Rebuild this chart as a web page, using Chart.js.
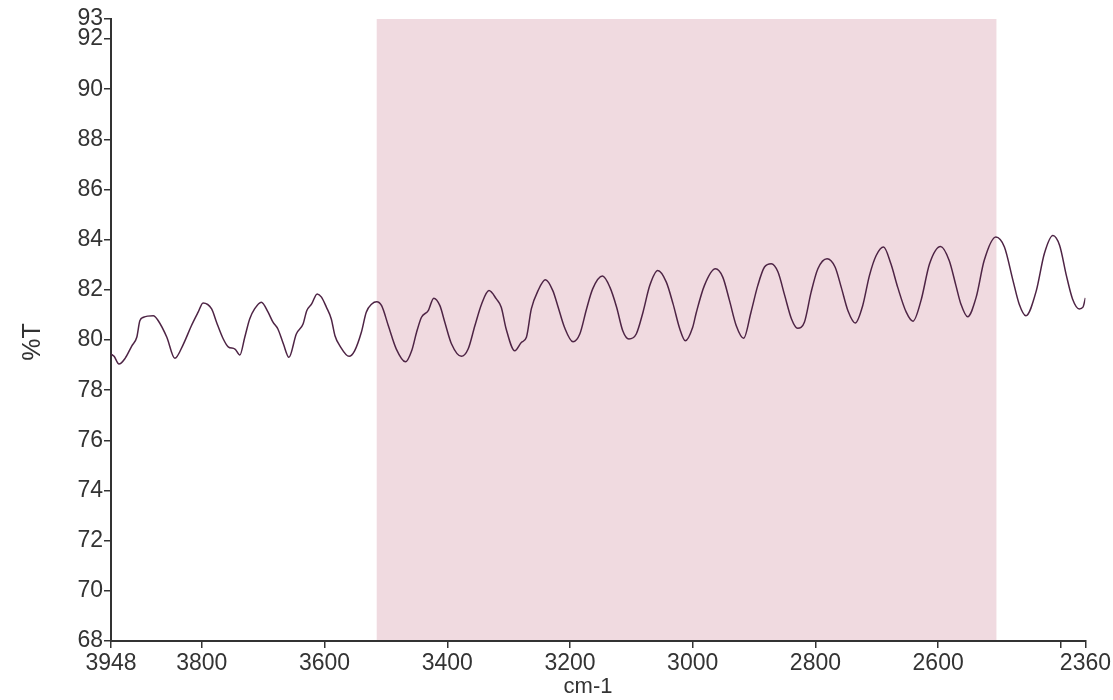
<!DOCTYPE html>
<html>
<head>
<meta charset="utf-8">
<title>%T spectrum</title>
<script src="https://cdn.jsdelivr.net/npm/chart.js@4/dist/chart.umd.min.js"></script>
<style>
  body { margin: 0; background: #fff; }
  #wrap { width: 1113px; height: 700px; }
</style>
</head>
<body>
<div id="wrap"><canvas id="spectrum"></canvas></div>
<script>
// wavenumber (cm-1)
const wavenumbers = [
  3948, 3943, 3935, 3925, 3914, 3906, 3901, 3895, 3879, 3871,
  3857, 3844, 3830, 3817, 3806, 3798, 3784, 3776, 3765, 3757,
  3746, 3738, 3730, 3722, 3714, 3703, 3692, 3684, 3676, 3667,
  3658, 3646, 3635, 3629, 3621, 3612, 3605, 3597, 3589, 3583,
  3575, 3560, 3551, 3540, 3532, 3523, 3515, 3507, 3496, 3483,
  3468, 3458, 3450, 3442, 3431, 3422, 3412, 3404, 3393, 3377,
  3366, 3355, 3344, 3332, 3320, 3312, 3304, 3290, 3279, 3271,
  3263, 3252, 3240, 3228, 3220, 3209, 3195, 3184, 3173, 3163,
  3147, 3135, 3124, 3114, 3104, 3092, 3081, 3070, 3057, 3043,
  3032, 3021, 3012, 3000, 2994, 2981, 2963, 2951, 2940, 2929,
  2917, 2905, 2894, 2883, 2872, 2861, 2850, 2839, 2829, 2818,
  2807, 2796, 2781, 2768, 2758, 2747, 2735, 2723, 2712, 2701,
  2689, 2677, 2666, 2652, 2641, 2628, 2614, 2596, 2582, 2571,
  2563, 2552, 2538, 2525, 2506, 2492, 2478, 2468, 2457, 2440,
  2427, 2413, 2402, 2391, 2381, 2370, 2364, 2360
];

// transmittance (%T)
const transmittance = [
  79.44, 79.35, 79.04, 79.27, 79.77, 80.11, 80.77, 80.91, 80.97, 80.77,
  80.11, 79.27, 79.84, 80.57, 81.11, 81.48, 81.24, 80.71, 80.04, 79.73,
  79.64, 79.40, 80.11, 80.84, 81.24, 81.51, 81.11, 80.71, 80.44, 79.84,
  79.31, 80.24, 80.64, 81.17, 81.44, 81.84, 81.71, 81.31, 80.84, 80.17,
  79.77, 79.35, 79.57, 80.31, 81.11, 81.44, 81.53, 81.37, 80.57, 79.64,
  79.13, 79.57, 80.31, 80.91, 81.17, 81.67, 81.37, 80.71, 79.84, 79.35,
  79.64, 80.57, 81.44, 81.97, 81.64, 81.31, 80.44, 79.57, 79.91, 80.11,
  81.24, 81.97, 82.40, 81.97, 81.37, 80.51, 79.93, 80.24, 81.24, 82.04,
  82.55, 82.11, 81.31, 80.37, 80.04, 80.24, 81.11, 82.17, 82.77, 82.31,
  81.44, 80.44, 79.97, 80.51, 81.11, 82.17, 82.84, 82.51, 81.57, 80.57,
  80.07, 81.11, 82.17, 82.91, 83.04, 82.71, 81.77, 80.84, 80.47, 80.71,
  81.91, 82.84, 83.24, 82.91, 82.11, 81.17, 80.68, 81.37, 82.57, 83.37,
  83.71, 83.04, 82.11, 81.11, 80.75, 81.57, 83.04, 83.73, 83.17, 82.17,
  81.44, 80.93, 81.71, 83.17, 84.11, 83.71, 82.37, 81.44, 80.97, 81.97,
  83.44, 84.17, 83.77, 82.57, 81.64, 81.24, 81.31, 81.68
];

// tick labels
const xTicks = [3948, 3800, 3600, 3400, 3200, 3000, 2800, 2600, 2400, 2360];
const xHiddenLabels = [2400];
const yTicks = [68, 70, 72, 74, 76, 78, 80, 82, 84, 86, 88, 90, 92, 92.8];

// shaded region (cm-1)
const bandFrom = 3515;
const bandTo = 2505;

const FONT = "'Liberation Sans', Arial, sans-serif";
const TEXT = '#333';

// 粉色区域
const bandPlugin = {
  id: 'band',
  beforeDatasetsDraw(chart) {
    const { ctx, chartArea, scales } = chart;
    const a = scales.x.getPixelForValue(bandFrom);
    const b = scales.x.getPixelForValue(bandTo);
    ctx.save();
    ctx.fillStyle = '#f0dae0';
    ctx.fillRect(Math.min(a, b), chartArea.top, Math.abs(b - a), chartArea.bottom - chartArea.top - 1);
    ctx.restore();
  }
};

// 坐标轴标题
const titlePlugin = {
  id: 'axisTitles',
  afterDraw(chart) {
    const ctx = chart.ctx;
    ctx.save();
    ctx.fillStyle = TEXT;
    ctx.textAlign = 'center';
    ctx.textBaseline = 'middle';
    ctx.font = '22px ' + FONT;
    ctx.fillText('cm-1', 588, 687);
    ctx.translate(33, 342);
    ctx.rotate(-Math.PI / 2);
    ctx.font = '25px ' + FONT;
    ctx.fillText('%T', 0, 0);
    ctx.restore();
  }
};

const points = wavenumbers.map((w, i) => ({ x: w, y: transmittance[i] }));

new Chart(document.getElementById('spectrum'), {
  type: 'line',
  data: {
    datasets: [{
      label: '%T',
      data: points,
      borderColor: '#4e2445',
      borderWidth: 1.5,
      pointRadius: 0,
      cubicInterpolationMode: 'monotone',
      fill: false
    }]
  },
  options: {
    responsive: true,
    maintainAspectRatio: false,
    animation: false,
    layout: { padding: { top: 19, right: 27, left: 0, bottom: 0 } },
    plugins: {
      legend: { display: false },
      tooltip: { enabled: false }
    },
    scales: {
      x: {
        type: 'linear',
        reverse: true,
        min: 2360,
        max: 3948,
        afterBuildTicks: scale => { scale.ticks = xTicks.map(v => ({ value: v })); },
        afterFit: scale => { scale.height = 59; },
        ticks: {
          autoSkip: false,
          maxRotation: 0,
          padding: 2,
          color: TEXT,
          font: { family: FONT, size: 23 },
          callback: v => xHiddenLabels.includes(v) ? '' : String(v)
        },
        grid: { drawOnChartArea: false, tickLength: 7, color: '#333', lineWidth: 1.5 },
        border: { color: '#333', width: 2 }
      },
      y: {
        min: 68,
        max: 92.8,
        afterBuildTicks: scale => { scale.ticks = yTicks.map(v => ({ value: v })); },
        afterFit: scale => { scale.width = 111; },
        ticks: {
          autoSkip: false,
          padding: 1,
          color: TEXT,
          font: { family: FONT, size: 23 },
          callback: v => String(Math.round(v))
        },
        grid: { drawOnChartArea: false, tickLength: 7, color: '#333', lineWidth: 1.5 },
        border: { color: '#333', width: 2 }
      }
    }
  },
  plugins: [bandPlugin, titlePlugin]
});
</script>
</body>
</html>
